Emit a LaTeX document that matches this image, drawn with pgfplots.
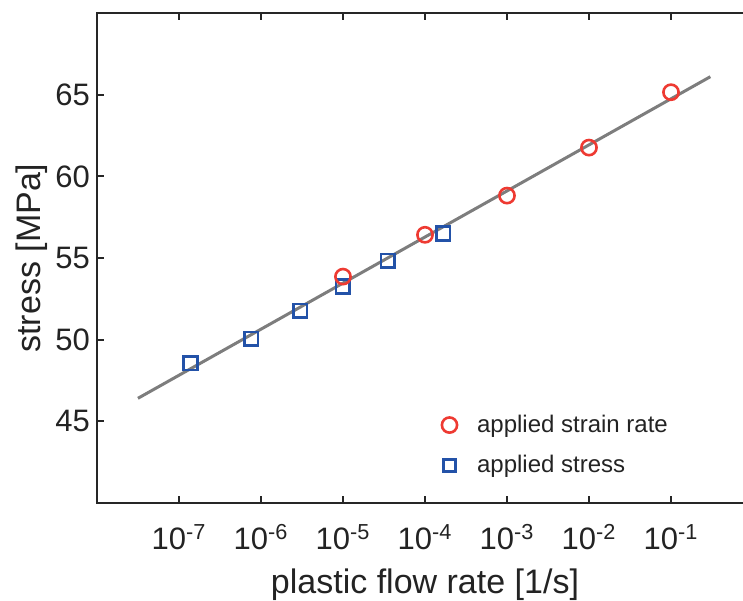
\documentclass[border=0pt]{standalone}
\usepackage{fontspec}
\setmainfont{Liberation Sans}
\usepackage{pgfplots}
\pgfplotsset{compat=1.18}
\definecolor{myred}{RGB}{238,58,50}
\definecolor{myblue}{RGB}{35,82,168}
\definecolor{linegray}{RGB}{125,125,125}
\definecolor{txt}{RGB}{35,35,35}
\begin{document}
\begin{tikzpicture}
\begin{axis}[name=ax, scale only axis, width=328pt, height=245pt,
  xmode=log, xmin=1e-8, xmax=1, ymin=40, ymax=70,
  xtick={1e-7,1e-6,1e-5,1e-4,1e-3,1e-2,1e-1},
  xticklabels={10\textsuperscript{-7},10\textsuperscript{-6},10\textsuperscript{-5},10\textsuperscript{-4},10\textsuperscript{-3},10\textsuperscript{-2},10\textsuperscript{-1}},
  ytick={45,50,55,60,65},
  xminorticks=false, yminorticks=false,
  tick align=inside, major tick length=3.5pt,
  tick style={line width=1pt, black!85},
  axis line style={line width=1pt, black!85},
  /pgf/number format/assume math mode=true,
  every tick label/.append style={font=\fontsize{15.5}{18}\selectfont, text=txt},
  xticklabel style={yshift=-7pt},
  label style={font=\fontsize{17}{20}\selectfont, text=txt},
  xlabel={plastic flow rate [1/s]}, ylabel={stress [MPa]},
  xlabel style={yshift=-2.5pt},
  ylabel style={yshift=-3pt},
  legend style={at={(0.516,0.197)}, anchor=north west, draw=none, fill=none,
    font=\fontsize{12}{14}\selectfont, text=txt, row sep=6pt},
  legend cell align=left,
]
\addplot[linegray, line width=1.5pt, forget plot] coordinates {(3.16e-8,46.41) (0.302,66.1)};
\addplot[only marks, mark=square, mark size=3.4pt, myblue, line width=1.3pt, mark options={fill=white}, forget plot] coordinates {
 (1.38e-7,48.55) (7.6e-7,50.06) (3.0e-6,51.76) (1.0e-5,53.25) (3.5e-5,54.83) (1.66e-4,56.5)};
\addplot[only marks, mark=o, mark size=3.8pt, myred, line width=1.3pt, mark options={fill=white}] coordinates {
 (1e-5,53.86) (1e-4,56.42) (1e-3,58.82) (1e-2,61.76) (1e-1,65.15)};
\addlegendentry{\hspace{8pt}applied strain rate}
\addlegendimage{only marks, mark=square, mark size=3.1pt, myblue, line width=1.3pt, mark options={fill=white}}
\addlegendentry{\hspace{8pt}applied stress}
\end{axis}
\pgfresetboundingbox
\useasboundingbox ([shift={(-48.5pt,-48.5pt)}]ax.south west) rectangle ([shift={(323pt,251.5pt)}]ax.south west);
\end{tikzpicture}
\end{document}
